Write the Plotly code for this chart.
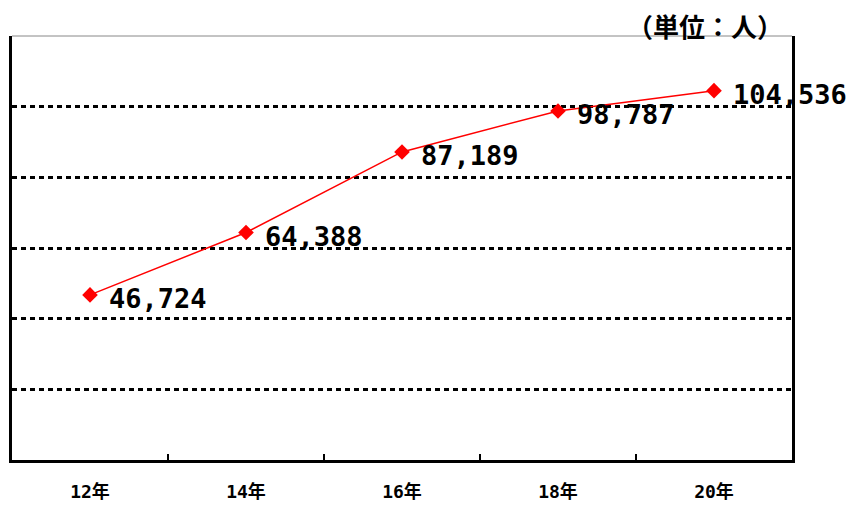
import plotly.graph_objects as go

years = ["12年", "14年", "16年", "18年", "20年"]
people = [46724, 64388, 87189, 98787, 104536]
unit_label = "（単位：人）"

MONO_CJK = "DejaVu Sans Mono, Noto Sans CJK JP"

fig = go.Figure()
fig.add_trace(go.Scatter(
    x=years, y=people, mode="lines+markers",
    line=dict(color="#FF0000", width=1.5),
    marker=dict(symbol="diamond", size=12, color="#FF0000"),
    hoverinfo="skip", showlegend=False,
))

for yr, v in zip(years, people):
    fig.add_annotation(
        x=yr, y=v, text=f"{v:,}", showarrow=False,
        xanchor="left", yanchor="middle", xshift=17, yshift=-4,
        font=dict(family=MONO_CJK, size=27, color="black", weight="bold"),
    )

fig.add_annotation(
    xref="paper", yref="paper", x=0.99, y=1.0, yanchor="middle", xanchor="right",
    text=unit_label, showarrow=False, yshift=11, borderpad=0,
    font=dict(family="Noto Sans CJK JP", size=26, color="black", weight="bold"),
)

fig.update_xaxes(
    type="category", tickson="boundaries", ticks="inside", ticklen=6,
    tickcolor="black", tickwidth=2,
    showline=True, linecolor="black", linewidth=2.5, mirror=False,
    showgrid=False, range=[-0.5, 4.5],
    tickfont=dict(family=MONO_CJK, size=18, color="black", weight="bold"),
    ticklabelstandoff=14,
)
fig.update_yaxes(
    range=[0, 120000], dtick=20000, showticklabels=False,
    showgrid=True, gridcolor="black", gridwidth=2.5, griddash="5px,4px",
    showline=True, linecolor="black", linewidth=2.5, mirror=True,
    zeroline=False,
)
fig.add_shape(type="line", xref="paper", yref="paper", x0=0, x1=1, y0=1, y1=1,
              line=dict(color="#888888", width=1), layer="below")

fig.update_layout(
    width=850, height=498,
    margin=dict(l=4, r=66, t=28, b=43),
    paper_bgcolor="white", plot_bgcolor="white",
)
fig.write_html("out.html")
